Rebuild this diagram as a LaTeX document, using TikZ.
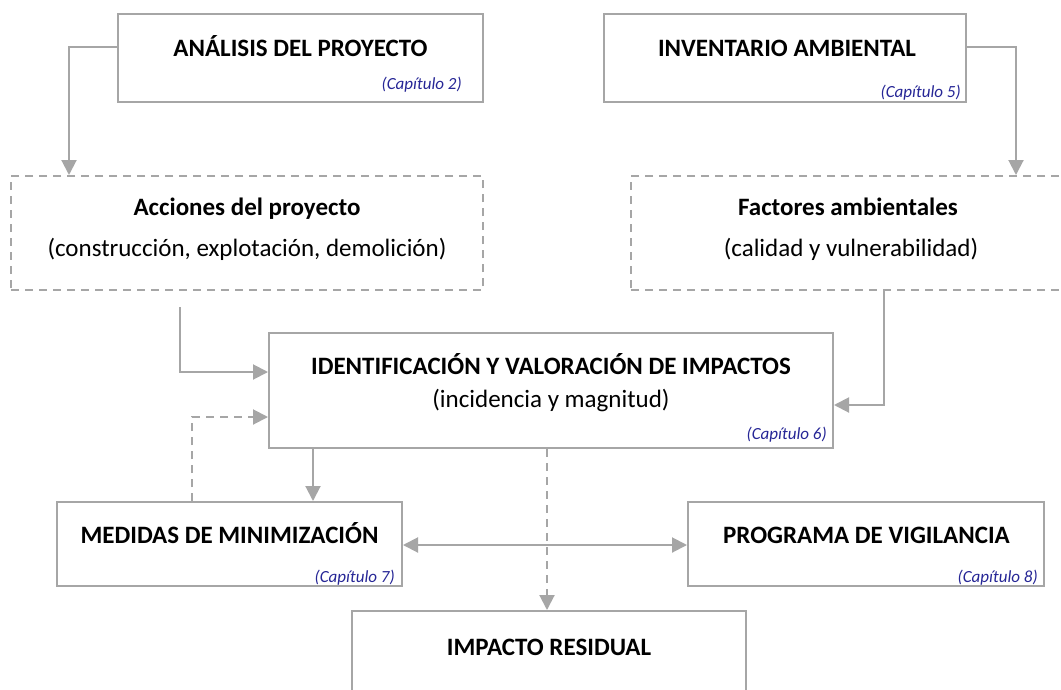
\documentclass[tikz,border=0pt]{standalone}
\usepackage{fontspec}
\setmainfont{Carlito}
\usetikzlibrary{arrows.meta,positioning}

\definecolor{linegray}{RGB}{166,166,166}
\definecolor{capblue}{RGB}{38,38,150}

\begin{document}
\begin{tikzpicture}[x=1pt,y=-1pt,>={Triangle[length=15pt,width=15pt]},
  box/.style={rectangle,draw=linegray,line width=2pt,inner sep=0pt},
  dbox/.style={box,dash pattern=on 8pt off 6pt},
  head/.style={font=\fontsize{25}{29}\selectfont\bfseries,anchor=base,inner sep=0pt},
  sub/.style={font=\fontsize{25}{29}\selectfont,anchor=base,inner sep=0pt},
  chap/.style={font=\fontsize{17}{20}\selectfont\itshape,text=capblue,anchor=base east,inner sep=0pt},
  conn/.style={draw=linegray,line width=2pt,->},
  dconn/.style={conn,dash pattern=on 8pt off 6pt}]
  \useasboundingbox (0,0) rectangle (1061,689);
  \clip (0,0) rectangle (1061,689);
  \fill[white] (0,0) rectangle (1061,689);

  % cajas
  \node[box,minimum width=365pt,minimum height=88pt] (ana) at (300.5,58) {};
  \node[box,minimum width=362pt,minimum height=88pt] (inv) at (785,58) {};
  \node[dbox,minimum width=472pt,minimum height=114pt] (acc) at (247,233) {};
  \node[dbox,minimum width=444pt,minimum height=114pt] (fac) at (853,233) {};
  \node[box,minimum width=564pt,minimum height=115pt] (ide) at (551,390.5) {};
  \node[box,minimum width=345pt,minimum height=84pt] (med) at (229.5,544) {};
  \node[box,minimum width=356pt,minimum height=84pt] (pro) at (866,544) {};
  \node[box,minimum width=394pt,minimum height=98pt] (imp) at (549,660) {};

  % textos
  \node[head] (anat) at (300.5,56) {ANÁLISIS DEL PROYECTO};
  \node[chap] (anac) at (462,89) {(Capítulo 2)};
  \node[head] (invt) at (787,56) {INVENTARIO AMBIENTAL};
  \node[chap] (invc) at (961,97) {(Capítulo 5)};
  \node[head] (acct) at (247,215) {Acciones del proyecto};
  \node[sub] (accs) at (247,256) {(construcción, explotación, demolición)};
  \node[head] (fact) at (848,215) {Factores ambientales};
  \node[sub] (facs) at (851,256) {(calidad y vulnerabilidad)};
  \node[head] (idet) at (551,374) {IDENTIFICACIÓN Y VALORACIÓN DE IMPACTOS};
  \node[sub] (ides) at (551,407) {(incidencia y magnitud)};
  \node[chap] (idec) at (827,439) {(Capítulo 6)};
  \node[head] (medt) at (229.5,543) {MEDIDAS DE MINIMIZACIÓN};
  \node[chap] (medc) at (395,582) {(Capítulo 7)};
  \node[head] (prot) at (866.5,543) {PROGRAMA DE VIGILANCIA};
  \node[chap] (proc) at (1038,582) {(Capítulo 8)};
  \node[head] (impt) at (549,655) {IMPACTO RESIDUAL};

  % conectores
  \coordinate (accout) at (180,307);
  \draw[conn] (ana.west |- 0,47) -| (acc.north -| 69,0);
  \draw[conn] (inv.east |- 0,47) -| (fac.north -| 1016,0);
  \draw[conn] (accout) |- (ide.west |- 0,372);
  \draw[conn] (fac.south -| 884,0) |- (ide.east |- 0,405);
  \draw[conn] (ide.south -| 313,0) -- (med.north -| 313,0);
  \draw[dconn] (med.north -| 192,0) |- (ide.west |- 0,417);
  \draw[dconn] (ide.south -| 547,0) -- (imp.north -| 547,0);
  \draw[conn,<->] (med.east |- 0,545) -- (pro.west |- 0,545);
\end{tikzpicture}
\end{document}
